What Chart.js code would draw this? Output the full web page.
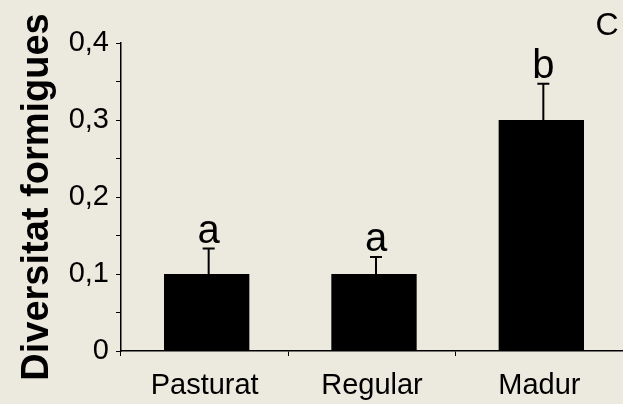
<!DOCTYPE html>
<html>
<head>
<meta charset="utf-8">
<script src="https://cdn.jsdelivr.net/npm/chart.js@4"></script>
<style>
  html, body { margin: 0; padding: 0; background: #ece9de; }
  #wrap { width: 623px; height: 404px; }
</style>
</head>
<body>
<div id="wrap"><canvas id="antChart" width="623" height="404"></canvas></div>
<script>
// Data
const categories = ['Pasturat', 'Regular', 'Madur'];
const diversity = [0.1, 0.1, 0.3];
const errorUp = [0.033, 0.022, 0.047];
const groupLetters = ['a', 'a', 'b'];
const yTicks = [0, 0.1, 0.2, 0.3, 0.4];

const BG = '#ece9de';
const FONT = "'Liberation Sans', Arial, sans-serif";

// paints the beige background
const bgPlugin = {
    id: 'bg',
    beforeDraw(chart) {
        const c = chart.ctx;
        c.save();
        c.fillStyle = BG;
        c.fillRect(0, 0, chart.width, chart.height);
        c.restore();
    }
};

// error bars (upper only), group letters and panel label
const extrasPlugin = {
    id: 'extras',
    afterDatasetsDraw(chart) {
        const c = chart.ctx;
        const y = chart.scales.y;
        const meta = chart.getDatasetMeta(0);
        c.save();
        c.strokeStyle = '#000';
        c.fillStyle = '#000';
        c.lineWidth = 2;
        meta.data.forEach((bar, i) => {
            const x = bar.x + 2;
            const top = y.getPixelForValue(diversity[i]);
            const cap = y.getPixelForValue(diversity[i] + errorUp[i]);
            c.beginPath();
            c.moveTo(x, top);
            c.lineTo(x, cap);
            c.moveTo(x - 6, cap);
            c.lineTo(x + 6, cap);
            c.stroke();

            c.font = '40px ' + FONT;
            c.textAlign = 'center';
            c.textBaseline = 'alphabetic';
            c.fillText(groupLetters[i], x, cap - 6);
        });
        c.font = '32px ' + FONT;
        c.textAlign = 'center';
        c.fillText('C', 607, 35);
        c.restore();
    }
};

// nudge bars a little right, as in the original figure
const shiftPlugin = {
    id: 'shift',
    afterDatasetsUpdate(chart) {
        chart.getDatasetMeta(0).data.forEach(b => { b.x += 2; });
    }
};

const ctx = document.getElementById('antChart').getContext('2d');
const antChart = new Chart(ctx, {
    type: 'bar',
    data: {
        labels: categories,
        datasets: [{
            data: diversity,
            backgroundColor: '#000',
            borderWidth: 0,
            barPercentage: 0.51,
            categoryPercentage: 1
        }]
    },
    options: {
        responsive: false,
        animation: false,
        layout: { padding: { top: 43, right: -6, bottom: 0, left: 0 } },
        plugins: {
            legend: { display: false },
            tooltip: { enabled: false }
        },
        scales: {
            x: {
                grid: {
                    offset: true,
                    drawOnChartArea: false,
                    drawTicks: true,
                    tickLength: 5,
                    color: '#000'
                },
                border: { color: '#000', width: 1.5 },
                ticks: {
                    color: '#000',
                    padding: 13,
                    font: { family: FONT, size: 29 }
                },
                afterFit(scale) { scale.height = 53; }
            },
            y: {
                min: 0,
                max: 0.4,
                grid: {
                    drawOnChartArea: false,
                    tickLength: 5,
                    color: '#000'
                },
                border: { color: '#000', width: 1.5 },
                ticks: {
                    stepSize: 0.05,
                    color: '#000',
                    padding: 7,
                    font: { family: FONT, size: 29 },
                    callback: function(v) {
                        const hit = yTicks.find(t => Math.abs(t - v) < 1e-6);
                        if (hit === undefined) return '';
                        return hit === 0 ? '0' : hit.toFixed(1).replace('.', ',');
                    }
                },
                title: {
                    display: true,
                    text: 'Diversitat formigues',
                    color: '#000',
                    font: { family: FONT, size: 38, weight: 'bold' },
                    padding: { top: 15, bottom: 0 }
                },
                afterFit(scale) { scale.width = 121; }
            }
        }
    },
    plugins: [bgPlugin, shiftPlugin, extrasPlugin]
});
</script>
</body>
</html>
